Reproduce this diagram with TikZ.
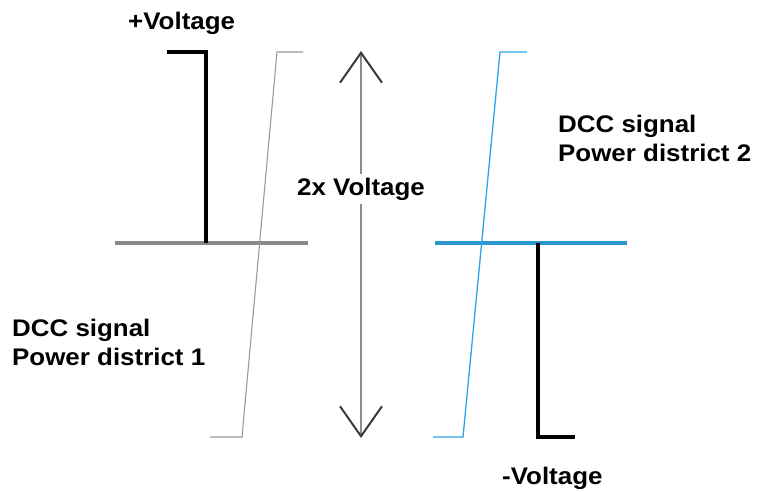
\documentclass[tikz,border=0pt]{standalone}
\usepackage{fontspec}
\setmainfont{Liberation Sans}[FakeStretch=1.08]
\usetikzlibrary{arrows.meta}
\definecolor{lvlgray}{HTML}{8A8A8A}
\definecolor{siggray}{HTML}{9A9A9A}
\definecolor{lvlblue}{HTML}{2C97CC}
\definecolor{sigblue}{HTML}{2AA4EA}
\definecolor{arrgray}{HTML}{8C8C8C}
\definecolor{tipgray}{HTML}{3A3A3A}
\begin{document}
\begin{tikzpicture}[x=1pt,y=-1pt,
  lbl/.style={font=\bfseries\fontsize{24}{29}\selectfont, inner sep=0pt, align=left},
  levelgray/.style={draw=lvlgray, line width=3.2pt},
  levelblue/.style={draw=lvlblue, line width=3.6pt},
  steppulse/.style={draw=black, line width=3.4pt, line join=miter},
  slantgray/.style={draw=siggray, line width=1.1pt},
  slantblue/.style={draw=sigblue, line width=1.3pt},
  span/.style={draw=arrgray, line width=1.6pt,
     {Straight Barb[length=30pt,width=42pt,line width=2pt,color=tipgray]}-{Straight Barb[length=30pt,width=42pt,line width=2pt,color=tipgray]}}]
\useasboundingbox[fill=white] (0,0) rectangle (758,492);

% district 1
\coordinate (g1) at (115,243);
\coordinate (g2) at (308,243);
\draw[levelgray] (g1) -- (g2);
\coordinate (pa) at (167,52);
\coordinate (pb) at (206,52);
\coordinate (pc) at (206,243);
\draw[steppulse] (pa) -- (pb) -- (pc);
\coordinate (s1a) at (210,437);
\coordinate (s1b) at (242,437);
\coordinate (s1c) at (277,52);
\coordinate (s1d) at (303,52);
\draw[slantgray] (s1a) -- (s1b) -- (s1c) -- (s1d);

% district 2
\coordinate (b1) at (435,243);
\coordinate (b2) at (627,243);
\draw[levelblue] (b1) -- (b2);
\coordinate (na) at (538,243);
\coordinate (nb) at (538,437);
\coordinate (nc) at (575,437);
\draw[steppulse] (na) -- (nb) -- (nc);
\coordinate (s2a) at (433,437);
\coordinate (s2b) at (463,437);
\coordinate (s2c) at (500,52);
\coordinate (s2d) at (527,52);
\draw[slantblue] (s2a) -- (s2b) -- (s2c) -- (s2d);

% span arrow
\coordinate (atop) at (361,51);
\coordinate (abot) at (361,438);
\draw[span] (atop) -- (abot);
\node[lbl, fill=white, inner sep=4pt] (twox) at (361,189) {2x Voltage};

% labels
\node[lbl, anchor=base west] (pv) at (128,30) {+Voltage};
\node[lbl, anchor=base west] (nv) at (502,484) {-Voltage};
\node[lbl, anchor=base west] (d1) at (12,365) {DCC signal\\Power district 1};
\node[lbl, anchor=base west] (d2) at (558,162) {DCC signal\\Power district 2};
\end{tikzpicture}
\end{document}
